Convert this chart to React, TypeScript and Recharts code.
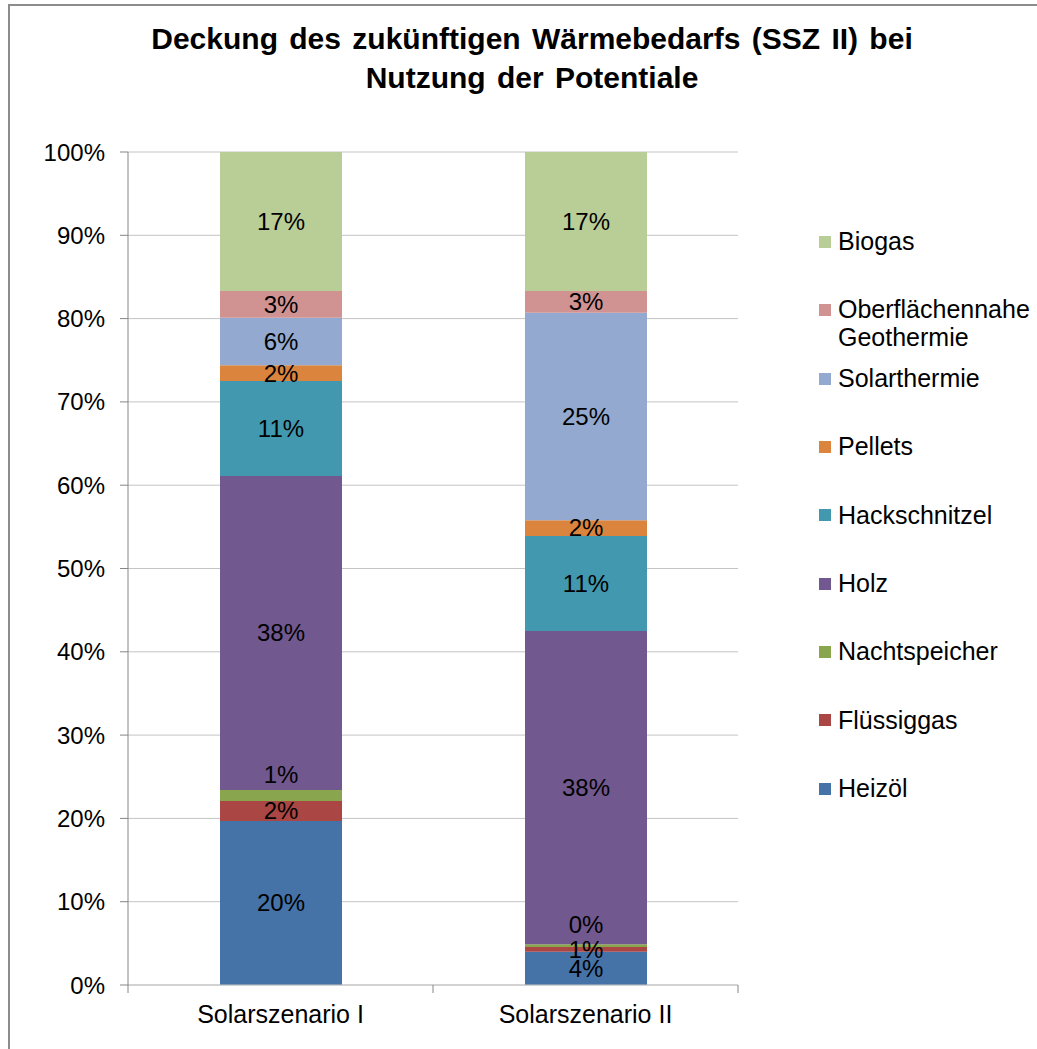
import { BarChart, Bar, XAxis, YAxis, CartesianGrid, LabelList, Legend } from "recharts";

// categories
const scenarios = ["Solarszenario I", "Solarszenario II"];

// series values in % (bottom to top of the stack)
const heizoel = [19.7, 4.0];
const fluessiggas = [2.4, 0.55];
const nachtspeicher = [1.3, 0.35];
const holz = [37.7, 37.6];
const hackschnitzel = [11.4, 11.4];
const pellets = [1.9, 1.9];
const solarthermie = [5.7, 24.9];
const geothermie = [3.2, 2.6];
const biogas = [16.7, 16.7];

const seriesKeys = [
  "heizoel",
  "fluessiggas",
  "nachtspeicher",
  "holz",
  "hackschnitzel",
  "pellets",
  "solarthermie",
  "geothermie",
  "biogas",
];
const seriesNames = [
  "Heizöl",
  "Flüssiggas",
  "Nachtspeicher",
  "Holz",
  "Hackschnitzel",
  "Pellets",
  "Solarthermie",
  "Oberflächennahe Geothermie",
  "Biogas",
];
const seriesValues = [
  heizoel,
  fluessiggas,
  nachtspeicher,
  holz,
  hackschnitzel,
  pellets,
  solarthermie,
  geothermie,
  biogas,
];

const yTicks = [0, 10, 20, 30, 40, 50, 60, 70, 80, 90, 100];

const title = ["Deckung des zukünftigen Wärmebedarfs (SSZ II) bei", "Nutzung der Potentiale"];

// styling
const colors = ["#4572A7", "#AA4643", "#89A54E", "#71588F", "#4198AF", "#DB843D", "#93A9CF", "#D19392", "#B9CD96"];
const FONT = "'Liberation Sans', Arial, sans-serif";
const AXIS_GRAY = "#868686";
const X_TICK_GAP = 20; // tickSize + tickMargin of the category axis

const data = scenarios.map((name, i) => {
  const row: Record<string, any> = { name };
  seriesKeys.forEach((k, s) => {
    row[k] = seriesValues[s][i];
  });
  return row;
});

const makeLabel = (lift: number) => (props: any) => {
  const { x, y, width, height, value } = props;
  return (
    <text
      x={x + width / 2}
      y={y + height / 2 - lift}
      dy="0.35em"
      textAnchor="middle"
      fontSize={24}
      fontFamily={FONT}
      fill="#000"
    >
      {`${Math.round(Number(value))}%`}
    </text>
  );
};

// category label plus Excel-style tick marks on the category boundaries
const CategoryTick = (props: any) => {
  const { x, y, payload, index, visibleTicksCount } = props;
  const half = payload?.offset ?? 0;
  const axisY = y - X_TICK_GAP;
  return (
    <g>
      <line x1={x - half} x2={x - half} y1={axisY} y2={axisY + 8} stroke={AXIS_GRAY} />
      {index === visibleTicksCount - 1 && (
        <line x1={x + half} x2={x + half} y1={axisY} y2={axisY + 8} stroke={AXIS_GRAY} />
      )}
      <text x={x} y={y} dy="0.71em" textAnchor="middle" fontSize={25} fontFamily={FONT} fill="#000">
        {payload.value}
      </text>
    </g>
  );
};

const renderLegend = (props: any) => {
  // same order as the stack, top series first
  const items = [...(props.payload || [])].sort(
    (a: any, b: any) => seriesNames.indexOf(b.value) - seriesNames.indexOf(a.value)
  );
  return (
    <div style={{ fontFamily: FONT }}>
      {items.map((item: any) => (
        <div key={item.value} style={{ height: 68.4, display: "flex", alignItems: "flex-start" }}>
          <span
            style={{
              width: 12,
              height: 12,
              background: item.color,
              marginTop: 7.75,
              marginRight: 7,
              flexShrink: 0,
            }}
          />
          <span style={{ fontSize: 25, lineHeight: "27.5px", color: "#000" }}>{item.value}</span>
        </div>
      ))}
    </div>
  );
};

const App = () => {
  return (
    <div
      style={{
        position: "absolute",
        left: 0,
        top: 0,
        width: 1037,
        height: 1049,
        overflow: "hidden",
        background: "#fff",
        fontFamily: FONT,
      }}
    >
      {/* chart frame, cut off at the right and bottom */}
      <div
        style={{
          position: "absolute",
          left: 8,
          top: 4,
          width: 1100,
          height: 1100,
          border: "2px solid #8c8c8c",
        }}
      />
      <div
        style={{
          position: "absolute",
          left: 32,
          top: 19,
          width: 1000,
          textAlign: "center",
          fontSize: 30,
          fontWeight: "bold",
          lineHeight: "39px",
          wordSpacing: 3,
          color: "#000",
        }}
      >
        {title.map((t) => (
          <div key={t}>{t}</div>
        ))}
      </div>
      <div style={{ position: "absolute", left: 0, top: 0 }}>
        <BarChart
          width={1037}
          height={1049}
          data={data}
          margin={{ top: 152, right: 299, bottom: 24, left: 0 }}
        >
          <CartesianGrid vertical={false} stroke="#c4c4c4" />
          <XAxis
            dataKey="name"
            height={40}
            tickLine={false}
            axisLine={{ stroke: "#c4c4c4" }}
            tickSize={8}
            tickMargin={12}
            tick={<CategoryTick />}
          />
          <YAxis
            width={128}
            domain={[0, 100]}
            ticks={yTicks}
            allowDataOverflow
            tickFormatter={(v: number) => `${v}%`}
            tickSize={8}
            tickMargin={15}
            axisLine={{ stroke: AXIS_GRAY }}
            tickLine={{ stroke: AXIS_GRAY }}
            tick={{ fontSize: 24, fill: "#000", fontFamily: FONT }}
          />
          <Legend
            layout="horizontal"
            verticalAlign="middle"
            align="center"
            width={218}
            content={renderLegend}
            wrapperStyle={{ left: 819, top: 228, width: 218 }}
          />
          {seriesKeys.map((k, s) => (
            <Bar
              key={k}
              dataKey={k}
              name={seriesNames[s]}
              stackId="a"
              fill={colors[s]}
              barSize={122}
              isAnimationActive={false}
            >
              <LabelList dataKey={k} content={makeLabel(k === "nachtspeicher" ? 21 : 0)} />
            </Bar>
          ))}
        </BarChart>
      </div>
    </div>
  );
};

export default App;
